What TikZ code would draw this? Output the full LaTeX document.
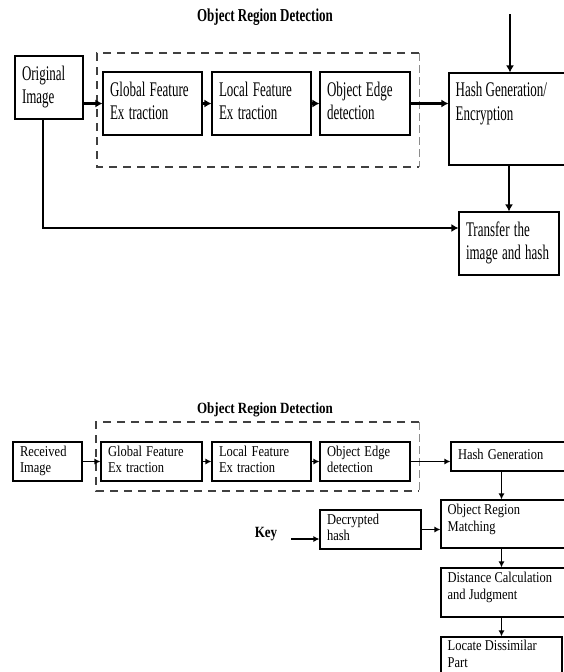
\documentclass[tikz,border=0pt]{standalone}
\usepackage{fontspec}
\setmainfont{Liberation Serif}
\usetikzlibrary{positioning,arrows.meta}

\newcommand\tallt[2][1.6]{\scalebox{1}[#1]{\begin{tabular}{@{}l@{}}#2\end{tabular}}}

\tikzset{
	blk/.style={draw, line width=1.1pt, align=left, inner xsep=7pt, inner ysep=0pt},
	topf/.style={font=\fontsize{13}{14.5}\selectfont},
	botf/.style={font=\fontsize{12.5}{13.5}\selectfont},
	lbl/.style={anchor=north west, align=left, inner xsep=7pt},
	grp/.style={line width=1.8pt, dash pattern=on 8pt off 6pt, black!75},
	grpthin/.style={line width=0.7pt, dash pattern=on 8pt off 4pt, black!45},
	arr/.style={-{Latex[length=7pt,width=8pt]}, line width=2.2pt},
	arrs/.style={-{Latex[length=6pt,width=6pt]}, line width=1.6pt},
	ttl/.style={font=\fontsize{13}{15}\selectfont\bfseries}
}

\begin{document}
\begin{tikzpicture}[x=1pt,y=-1pt,node distance=100pt,on grid]
			\useasboundingbox (0,0) rectangle (563,672);
			\node[ttl] (ttl1) at (265,17) {\tallt[1.4]{Object Region Detection}};
			\draw[grp] (419,53) -- (97,53) -- (97,167) -- (419,167);
			\draw[grpthin] (419,53) -- (419,167);
			\node[blk, topf, text width=54pt, minimum height=63pt] (orig) at (49,87.5) {\tallt{Original\\Image}};
			\node[blk, topf, text width=85pt, minimum height=63pt] (glob1) at (152.5,103.5) {\tallt{Global Feature\\Ex traction}};
			\node[blk, topf, text width=85pt, minimum height=63pt] (loc1) [right=109pt of glob1] {\tallt{Local Feature\\Ex traction}};
			\node[blk, topf, text width=76pt, minimum height=63pt] (edge1) [right=103.5pt of loc1] {\tallt{Object Edge\\detection}};
			\node[blk, minimum width=131pt, minimum height=92pt,
				label={[lbl, topf, inner ysep=8pt]north west:\tallt{Hash Generation/\\Encryption}}] (hash1) at (514.5,119) {};
			\node[blk, topf, text width=86pt, minimum height=63pt] (trans) at (509,243.5) {\tallt{Transfer the\\image and hash}};
			\coordinate (keyin) at (510,14);
			\draw[arr] (orig.east |- glob1.west) -- (glob1.west);
			\draw[arr] (glob1.east) -- (loc1.west);
			\draw[arr] (loc1.east) -- (edge1.west);
			\draw[arr] (edge1.east) -- (edge1.east -| hash1.west);
			\draw[arr] (keyin) -- (keyin |- hash1.north);
			\draw[arr] (trans.north |- hash1.south) -- (trans.north);
			\draw[arr] ([xshift=-6pt]orig.south) |- ([yshift=15.5pt]trans.west);

			\node[ttl] (ttl2) at (265,410) {\tallt[1.2]{Object Region Detection}};
			\draw[grp] (419,422) -- (96,422) -- (96,491) -- (419,491);
			\draw[grpthin] (419,422) -- (419,491);
			\node[blk, botf, text width=55pt, minimum height=39pt] (recv) at (47.5,461.5) {\tallt[1.2]{Received\\Image}};
			\node[blk, botf, text width=87pt, minimum height=39pt] (glob2) at (151.5,461.5) {\tallt[1.2]{Global Feature\\Ex traction}};
			\node[blk, botf, text width=85pt, minimum height=39pt] (loc2) [right=110pt of glob2] {\tallt[1.2]{Local Feature\\Ex traction}};
			\node[blk, botf, text width=76pt, minimum height=39pt] (edge2) [right=103.5pt of loc2] {\tallt[1.2]{Object Edge\\detection}};
			\node[blk, botf, text width=115pt, minimum height=29pt] (hash2) at (515.5,456.5) {\tallt[1.2]{Hash Generation}};
			\node[blk, minimum width=139pt, minimum height=48pt,
				label={[lbl, botf, inner ysep=4pt]north west:\tallt[1.2]{Object Region\\Matching}}] (match) at (510.5,524) {};
			\node[blk, botf, text width=87pt, minimum height=39pt] (dec) at (370.5,529.5) {\tallt[1.2]{Decrypted\\hash}};
			\node[ttl] (key) at (266,534) {\tallt[1.2]{Key}};
			\coordinate (keyout) at (291,539);
			\node[blk, minimum width=139pt, minimum height=49pt,
				label={[lbl, botf, inner ysep=4pt]north west:\tallt[1.2]{Distance Calculation\\and Judgment}}] (dist) at (510.5,592.5) {};
			\node[blk, minimum width=121pt, minimum height=53pt,
				label={[lbl, botf, inner ysep=3pt]north west:\tallt[1.2]{Locate Dissimilar\\Part}}] (locp) at (501.5,663.5) {};
			\draw[arrs] (recv.east) -- (glob2.west);
			\draw[arrs] (glob2.east) -- (loc2.west);
			\draw[arrs] (loc2.east) -- (edge2.west);
			\draw[arrs] (edge2.east) -- (edge2.east -| hash2.west);
			\draw[arrs] (hash2.south -| locp.north) -- (match.north -| locp.north);
			\draw[arrs] (keyout) -- (keyout -| dec.west);
			\draw[arrs] (dec.east) -- (dec.east -| match.west);
			\draw[arrs] (match.south -| locp.north) -- (dist.north -| locp.north);
			\draw[arrs] (dist.south -| locp.north) -- (locp.north);
		\end{tikzpicture}
\end{document}
